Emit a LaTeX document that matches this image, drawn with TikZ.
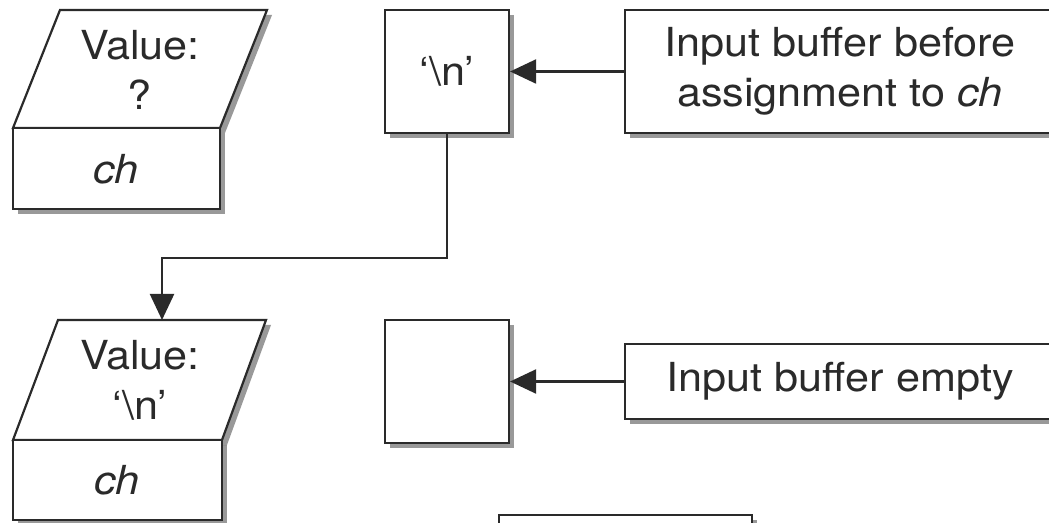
\documentclass[tikz,border=0pt]{standalone}
\usepackage{fontspec}
\setmainfont{TeX Gyre Heros}[FakeStretch=1.08]
\usetikzlibrary{arrows.meta,shadows}
\definecolor{ink}{HTML}{2A2A2A}

\begin{document}
\begin{tikzpicture}[x=0.5pt, y=-0.5pt, line width=1.1pt, color=ink,
  box/.style={draw=ink, fill=white, drop shadow={shadow xshift=2.5pt, shadow yshift=-2.5pt, fill=black, opacity=0.4}},
  lbl/.style={font=\fontsize{20}{25}\selectfont, align=center, inner sep=0pt},
  arr/.style={draw=ink, -{Triangle[length=13pt, width=12pt]}}]
\useasboundingbox (0,0) rectangle (1049,523);
\clip (0,0) rectangle (1049,523);
% ch before the assignment
\path[box] (60,10) -- (267,10) -- (220,128) -- (13,128) -- cycle;
\path[box] (13,128) rectangle (220,209);
\node[lbl] (val1) at (140,70) {Value:\\?};
\node[lbl, font=\fontsize{20}{25}\selectfont\itshape] (ch1) at (116,169) {ch};
% ch after the assignment
\path[box] (58,320) -- (266,320) -- (222,440) -- (13,440) -- cycle;
\path[box] (13,440) rectangle (222,520);
\coordinate (v2) at (162,320);
\node[lbl] (val2) at (140,380) {Value:\\‘\textbackslash n’};
\node[lbl, font=\fontsize{20}{25}\selectfont\itshape] (ch2) at (117,480) {ch};
% input buffer
\node[box, lbl, minimum width=62pt, minimum height=61.5pt] (nl) at (447,71.5) {‘\textbackslash n’};
\node[box, lbl, minimum width=215pt, minimum height=61.5pt] (before) at (840,71.5) {Input buffer before\\assignment to \textit{ch}};
\node[box, minimum width=62pt, minimum height=61.5pt] (buf) at (447,381.5) {};
\node[box, lbl, minimum width=215pt, minimum height=37.5pt] (empty) at (840,381.5) {Input buffer empty};
\node[box, minimum width=126.5pt, minimum height=40pt] (next) at (625.5,555) {};
\draw[arr] (before.west) -- (nl.east);
\draw[arr] (empty.west) -- (buf.east);
\draw[arr] (nl.south) -- ++(0,124) -| (v2);
\end{tikzpicture}
\end{document}
